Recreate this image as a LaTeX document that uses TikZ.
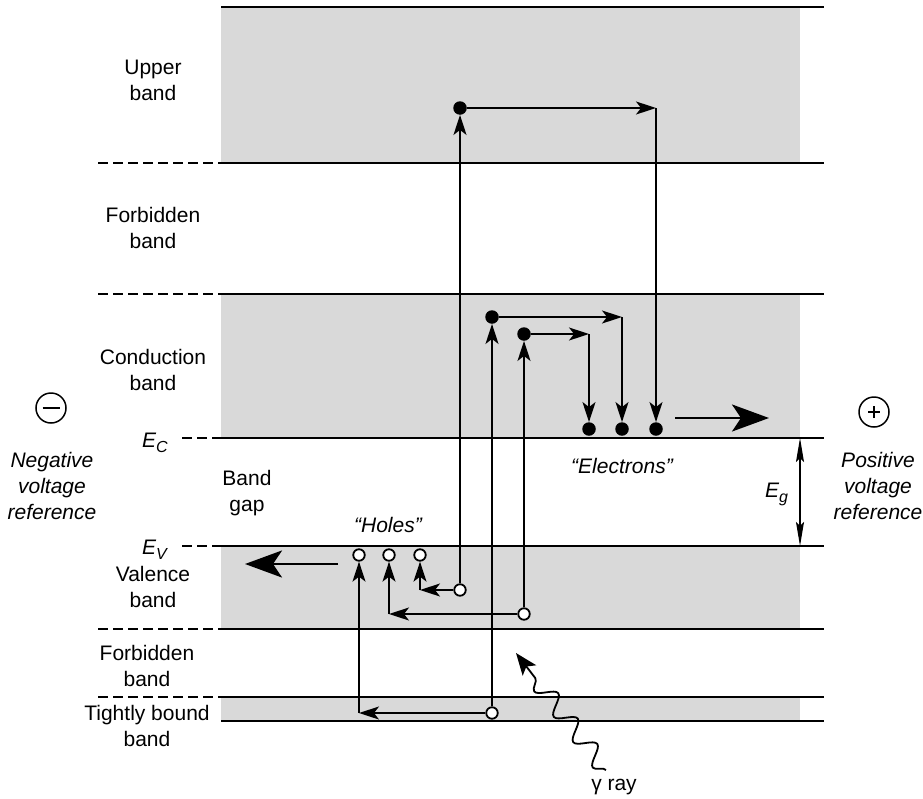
\documentclass[tikz,border=0pt]{standalone}
\usepackage{fontspec}
\setmainfont{Liberation Sans}
\usetikzlibrary{arrows.meta,decorations.pathmorphing}
\definecolor{bandgray}{RGB}{217,217,217}
\begin{document}
\begin{tikzpicture}[x=1pt,y=-1pt,
  lvl/.style={line width=2pt},
  lvldash/.style={line width=1.8pt, dash pattern=on 10pt off 5pt},
  bandfill/.style={fill=bandgray, draw=none},
  tr/.style={line width=1.5pt, -{Stealth[length=20pt,width=13pt,inset=5pt]}},
  big/.style={line width=2.7pt, -{Stealth[length=37pt,width=27pt,inset=9pt]}},
  elec/.style={circle, fill=black, inner sep=0pt, minimum size=13.5pt},
  hole/.style={circle, draw=black, fill=white, line width=1.8pt, inner sep=0pt, minimum size=11.5pt},
  lbl/.style={align=center, inner sep=0pt, font=\fontsize{21}{26}\selectfont},
  ilbl/.style={align=center, inner sep=0pt, font=\fontsize{21}{26}\selectfont\itshape},
  sym/.style={circle, draw=black, line width=1.5pt, minimum size=30pt, inner sep=0pt}
]
\useasboundingbox (0,0) rectangle (923,798);

% bands
\fill[bandfill] (221,7) rectangle (800,163);
\fill[bandfill] (221,294) rectangle (800,438);
\fill[bandfill] (221,546) rectangle (800,629);
\fill[bandfill] (221,697) rectangle (800,721);

% level lines
\foreach \yy in {7,163,294,438,546,629,697,721}
  \draw[lvl] (221,\yy) -- (824,\yy);
\foreach \yy in {163,294,629,697}
  \draw[lvldash] (98,\yy) -- (221,\yy);
\foreach \yy in {438,546}
  \draw[lvldash] (182,\yy) -- (221,\yy);

% labels
\node[lbl] (tUpper) at (153,80) {Upper\\band};
\node[lbl] (tForbA) at (153,228) {Forbidden\\band};
\node[lbl] (tCond) at (153,370) {Conduction\\band};
\node[lbl] (tGap) at (247,493) {Band\\gap};
\node[lbl] (tVal) at (153,587) {Valence\\band};
\node[lbl] (tForbB) at (147,666) {Forbidden\\band};
\node[lbl] (tTight) at (147,726) {Tightly bound\\band};
\node[ilbl] (tNeg) at (52,486) {Negative\\voltage\\reference};
\node[ilbl] (tPos) at (878,486) {Positive\\voltage\\reference};
\node[lbl, anchor=base west] (tEC) at (142,447) {\itshape E\raisebox{-5pt}{\fontsize{16}{16}\selectfont C}};
\node[lbl, anchor=base west] (tEV) at (142,554) {\itshape E\raisebox{-5pt}{\fontsize{16}{16}\selectfont V}};
\node[lbl, anchor=base west] (tEg) at (765,497) {\itshape E\raisebox{-5pt}{\fontsize{16}{16}\selectfont g}};
\node[ilbl, anchor=base] (tHoles) at (388,532) {“Holes”};
\node[ilbl, anchor=base] (tElec) at (622,473) {“Electrons”};
\node[lbl, anchor=base] (tGamma) at (614,790) {γ ray};

% voltage symbols
\node[sym] (minus) at (51,408) {};
\draw[line width=2.5pt] ([xshift=-8.5pt]minus.center) -- ([xshift=8.5pt]minus.center);
\node[sym] (plus) at (874,412) {};
\draw[line width=2.5pt] ([xshift=-6pt]plus.center) -- ([xshift=6pt]plus.center);
\draw[line width=2.5pt] ([yshift=-6pt]plus.center) -- ([yshift=6pt]plus.center);

% Eg double arrow
\coordinate (gTop) at (800,438);
\coordinate (gBot) at (800,546);
\draw[line width=1.2pt, {Stealth[length=24pt,width=8pt,inset=4pt]}-{Stealth[length=24pt,width=8pt,inset=4pt]}] (gTop) -- (gBot);

% electrons
\node[elec] (eC) at (460,108) {};
\node[elec] (eA) at (492,317) {};
\node[elec] (eB) at (524,334) {};
\node[elec] (dB) at (589,429) {};
\node[elec] (dA) at (622,429) {};
\node[elec] (dC) at (656,429) {};
\coordinate (cC) at (656,108);
\coordinate (cA) at (622,317);
\coordinate (cB) at (589,334);

% holes
\coordinate (k1) at (359,713);
\coordinate (k2) at (389,614);
\coordinate (k3) at (420,590);
\node[hole] (hT) at (492,713) {};
\node[hole] (hV1) at (460,590) {};
\node[hole] (hV2) at (524,614) {};
\node[hole] (o1) at (359,555) {};
\node[hole] (o2) at (389,555) {};
\node[hole] (o3) at (420,555) {};

% transitions
\draw[tr] (hT) -- (eA);
\draw[tr] (eA) -- (cA);
\draw[tr] (cA) -- (dA);
\draw[tr] (hV2) -- (eB);
\draw[tr] (eB) -- (cB);
\draw[tr] (cB) -- (dB);
\draw[tr] (hV1) -- (eC);
\draw[tr] (eC) -- (cC);
\draw[tr] (cC) -- (dC);
\draw[tr] (hT) -- (k1);
\draw[tr] (k1) -- (o1);
\draw[tr] (hV2) -- (k2);
\draw[tr] (k2) -- (o2);
\draw[tr] (hV1) -- (k3);
\draw[tr] (k3) -- (o3);

% big drift arrows
\coordinate (rS) at (675,418);
\coordinate (rE) at (769,418);
\draw[big] (rS) -- (rE);
\coordinate (lS) at (338,564);
\coordinate (lE) at (245,564);
\draw[big] (lS) -- (lE);

% gamma ray
\coordinate (gS) at (606,770);
\coordinate (gE) at (516,653);
\draw[line width=1.8pt, -{Stealth[length=22pt,width=17pt,inset=5pt]},
  decoration={snake, amplitude=9pt, segment length=32pt, post length=18pt}, decorate] (gS) -- (gE);
\end{tikzpicture}
\end{document}
